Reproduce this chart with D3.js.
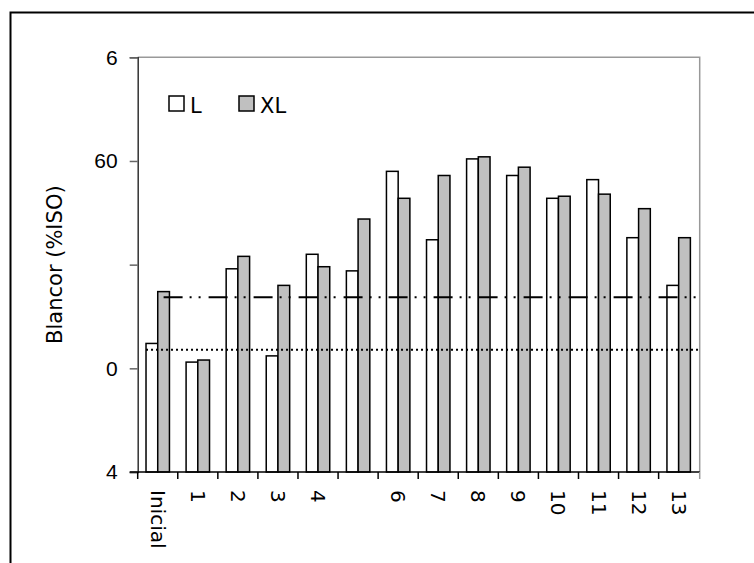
<!DOCTYPE html>
<html>
<head>
<meta charset="utf-8">
<script src="https://cdn.jsdelivr.net/npm/d3@7"></script>
<style>
  html, body { margin: 0; padding: 0; background: #fff; }
  svg { display: block; font-family: "DejaVu Sans", Verdana, sans-serif; }
</style>
</head>
<body>
<div id="chart"></div>
<script>
// Categorías del eje x y sus etiquetas
const categories = ['Inicial', '1', '2', '3', '4', '5', '6', '7', '8', '9', '10', '11', '12', '13'];
const xLabels = ['Inicial', '1', '2', '3', '4', '', '6', '7', '8', '9', '10', '11', '12', '13'];

// Series
const series = ['L', 'XL'];
const valuesL = [46.2, 45.3, 49.8, 45.6, 50.5, 49.7, 54.5, 51.2, 55.1, 54.3, 53.2, 54.1, 51.3, 49.0];
const valuesXL = [48.7, 45.4, 50.4, 49.0, 49.9, 52.2, 53.2, 54.3, 55.2, 54.7, 53.3, 53.4, 52.7, 51.3];

// Eje y
const yTicks = [40, 45, 50, 55, 60];
const yTickLabels = ['4', '0', '', '60', '6'];

// Líneas de referencia
const refDashDot = 48.43;
const refDotted = 45.89;

const width = 754;
const height = 563;
const margin = { top: 57.3, right: 55.3, bottom: 91, left: 137.7 };

const svg = d3.select('#chart')
  .append('svg')
  .attr('width', width)
  .attr('height', height);

// Marco exterior
svg.append('rect')
  .attr('x', 10.5)
  .attr('y', 12.5)
  .attr('width', 900)
  .attr('height', 700)
  .attr('fill', 'none')
  .attr('stroke', '#000')
  .attr('stroke-width', 2);

const x0 = d3.scaleBand()
  .domain(categories)
  .range([margin.left, width - margin.right])
  .padding(0);

const x1 = d3.scaleBand()
  .domain(series)
  .range([0, x0.bandwidth()])
  .paddingInner(0)
  .paddingOuter(0.71);

const y = d3.scaleLinear()
  .domain([40, 60])
  .range([height - margin.bottom, margin.top]);

const plotRight = width - margin.right + 1;

// Borde superior y derecho del área de trazado
svg.append('path')
  .attr('d', `M${margin.left},${margin.top}H${plotRight}V${y(40)}`)
  .attr('fill', 'none')
  .attr('stroke', '#999')
  .attr('stroke-width', 1.5);

// Barras
const rows = categories.map((c, i) => ({ cat: c, L: valuesL[i], XL: valuesXL[i] }));
const fills = { L: '#ffffff', XL: '#c0c0c0' };

svg.append('g')
  .selectAll('g')
  .data(rows)
  .join('g')
  .attr('transform', d => `translate(${x0(d.cat)},0)`)
  .selectAll('rect')
  .data(d => series.map(s => ({ key: s, value: d[s] })))
  .join('rect')
  .attr('x', d => x1(d.key))
  .attr('y', d => y(d.value))
  .attr('width', x1.bandwidth())
  .attr('height', d => y(40) - y(d.value))
  .attr('fill', d => fills[d.key])
  .attr('stroke', '#000')
  .attr('stroke-width', 1.5);

// Líneas de referencia
svg.append('line')
  .attr('x1', x0('Inicial') + x1('XL') + x1.bandwidth() / 2)
  .attr('x2', plotRight)
  .attr('y1', y(refDashDot))
  .attr('y2', y(refDashDot))
  .attr('stroke', '#000')
  .attr('stroke-width', 2)
  .attr('stroke-dasharray', '19,7,2,7,2,8');

svg.append('line')
  .attr('x1', x0('Inicial') + x1('L'))
  .attr('x2', plotRight)
  .attr('y1', y(refDotted))
  .attr('y2', y(refDotted))
  .attr('stroke', '#000')
  .attr('stroke-width', 2)
  .attr('stroke-dasharray', '2,3');

// Eje y
const yAxis = svg.append('g')
  .attr('transform', `translate(${margin.left},0)`)
  .call(d3.axisLeft(y)
    .tickValues(yTicks)
    .tickSize(8)
    .tickPadding(12)
    .tickFormat((d, i) => yTickLabels[i]));
yAxis.select('.domain').attr('stroke', '#333').attr('stroke-width', 1.5);
yAxis.selectAll('.tick line').attr('stroke', '#666').attr('stroke-width', 1.5);
yAxis.selectAll('.tick text')
  .attr('fill', '#000')
  .style('font-size', '21px');

// Eje x
const xAxis = svg.append('g')
  .attr('transform', `translate(0,${y(40)})`);
xAxis.append('line')
  .attr('x1', margin.left - 8)
  .attr('x2', plotRight)
  .attr('stroke', '#000')
  .attr('stroke-width', 1.5);
xAxis.selectAll('.xtick')
  .data(categories.concat(['end']))
  .join('line')
  .attr('class', 'xtick')
  .attr('x1', d => d === 'end' ? plotRight : x0(d))
  .attr('x2', d => d === 'end' ? plotRight : x0(d))
  .attr('y1', 0)
  .attr('y2', 7)
  .attr('stroke', d => d === 'end' ? '#999' : '#000')
  .attr('stroke-width', 1.5);
xAxis.selectAll('.xlabel')
  .data(categories)
  .join('text')
  .attr('class', 'xlabel')
  .attr('transform', d => `translate(${x0(d) + x0.bandwidth() / 2},18) rotate(90)`)
  .attr('dy', '0.35em')
  .attr('text-anchor', 'start')
  .style('font-size', '20px')
  .text((d, i) => xLabels[i]);

// Título del eje y
svg.append('text')
  .attr('transform', `translate(62,${(y(40) + y(60)) / 2}) rotate(-90)`)
  .attr('text-anchor', 'middle')
  .style('font-size', '21px')
  .text('Blancor (%ISO)');

// Leyenda
const legend = svg.append('g');
const legendItems = [
  { key: 'L', x: 169 },
  { key: 'XL', x: 239 }
];
legend.selectAll('rect')
  .data(legendItems)
  .join('rect')
  .attr('x', d => d.x)
  .attr('y', 96)
  .attr('width', 15)
  .attr('height', 15)
  .attr('fill', d => fills[d.key])
  .attr('stroke', '#000')
  .attr('stroke-width', 1.5);
legend.selectAll('text')
  .data(legendItems)
  .join('text')
  .attr('x', d => d.x + 21)
  .attr('y', 112.5)
  .style('font-size', '21px')
  .text(d => d.key);
</script>
</body>
</html>
